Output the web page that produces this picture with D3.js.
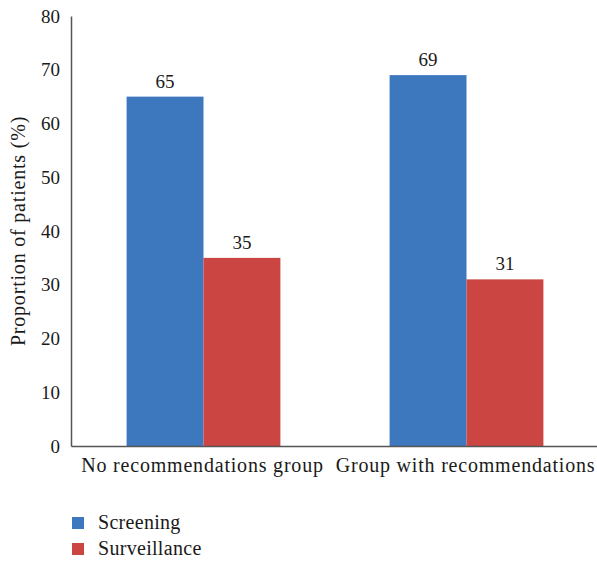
<!DOCTYPE html>
<html>
<head>
<meta charset="utf-8">
<script src="https://cdn.jsdelivr.net/npm/d3@7"></script>
<style>
  html, body { margin: 0; padding: 0; background: #fff; }
  svg text { font-family: "Liberation Serif", "DejaVu Serif", serif !important; }
  .wide { letter-spacing: 0.8px; }
  .legend-label { letter-spacing: 0.3px; }
</style>
</head>
<body>
<svg id="chart" width="597" height="562"></svg>
<script>
const categories = ["No recommendations group", "Group with recommendations"];
const seriesNames = ["Screening", "Surveillance"];
const screening = [65, 69];
const surveillance = [35, 31];
const yTicks = [0, 10, 20, 30, 40, 50, 60, 70, 80];
const colors = ["#3d78bf", "#cb4543"];

const rows = categories.map((c, i) => ({ cat: c, values: [screening[i], surveillance[i]] }));

const svg = d3.select("#chart");
const margin = { left: 71, right: 0, top: 16, bottom: 116 };
const W = 597, H = 562;
const FS = 19;
const FL = 20;

const x = d3.scaleBand().domain(categories).range([margin.left, W - margin.right]).paddingInner(0).paddingOuter(0);
const inner = d3.scaleBand().domain(seriesNames).range([0, x.bandwidth()]).paddingInner(0).paddingOuter(0.71);
const y = d3.scaleLinear().domain([0, 80]).range([H - margin.bottom, margin.top]);

// bars with value labels
const g = svg.append("g");
rows.forEach(r => {
  seriesNames.forEach((s, j) => {
    const v = r.values[j];
    g.append("rect")
      .attr("x", x(r.cat) + inner(s) + 1)
      .attr("y", y(v))
      .attr("width", inner.bandwidth())
      .attr("height", y(0) - y(v))
      .attr("fill", colors[j]);
    g.append("text")
      .attr("x", x(r.cat) + inner(s) + 1 + inner.bandwidth() / 2)
      .attr("y", y(v) - 9)
      .attr("text-anchor", "middle")
      .attr("font-size", FS)
      .attr("fill", "#1a1a1a")
      .text(v);
  });
});

// y axis
const yAxis = svg.append("g")
  .attr("transform", `translate(${margin.left},0)`)
  .call(d3.axisLeft(y).tickValues(yTicks).tickSize(0).tickPadding(11));
yAxis.select(".domain").attr("stroke", "#555").attr("stroke-width", 1.5);
yAxis.selectAll("text").attr("font-size", FS).attr("fill", "#1a1a1a");

// x axis
const xAxis = svg.append("g")
  .attr("transform", `translate(0,${y(0)})`)
  .call(d3.axisBottom(x).tickSize(0).tickPadding(12));
xAxis.select(".domain").attr("stroke", "#555").attr("stroke-width", 1.5);
xAxis.selectAll("text").attr("font-size", FL).attr("fill", "#1a1a1a").attr("class", "wide");

// y title
svg.append("text")
  .attr("class", "wide")
  .attr("transform", `translate(25,${(y(0) + y(80)) / 2}) rotate(-90)`)
  .attr("text-anchor", "middle")
  .attr("font-size", FL)
  .attr("fill", "#1a1a1a")
  .text("Proportion of patients (%)");

// legend
const legend = svg.append("g").attr("transform", "translate(72,517)");
seriesNames.forEach((s, j) => {
  const row = legend.append("g").attr("transform", `translate(0,${j * 26})`);
  row.append("rect").attr("width", 12).attr("height", 12).attr("fill", colors[j]);
  row.append("text").attr("class", "legend-label").attr("x", 26).attr("y", 12)
    .attr("font-size", FL).attr("fill", "#1a1a1a").text(s);
});
</script>
</body>
</html>
